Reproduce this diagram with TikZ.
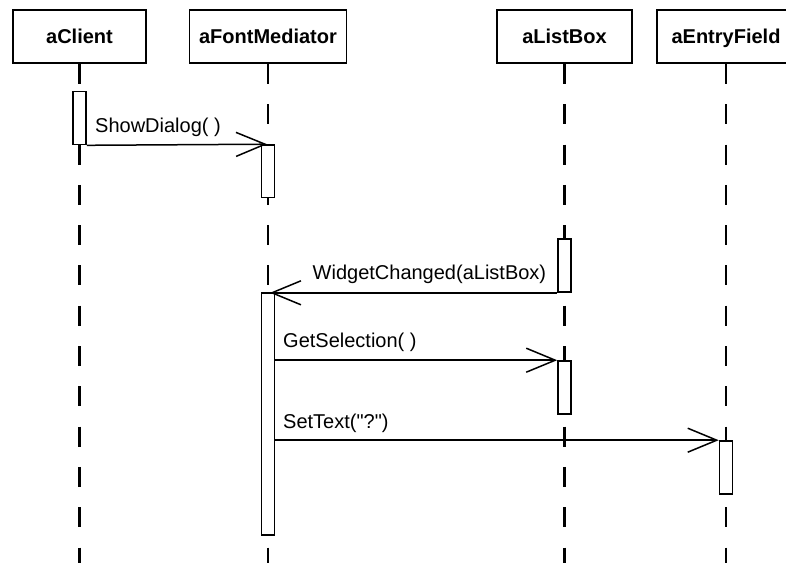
\documentclass[tikz,border=0pt]{standalone}
\usepackage{fontspec}
\setmainfont{Liberation Sans}[Ligatures=TeXOff]
\usetikzlibrary{arrows.meta}
\begin{document}
\begin{tikzpicture}[x=1pt,y=-1pt,
  objbox/.style={draw,line width=1.8pt,fill=white,minimum height=53pt,inner sep=0pt,
    text height=14.6pt,text depth=1pt,
    font=\fontsize{20}{24}\selectfont\bfseries},
  actbox/.style={draw,line width=1.6pt,fill=white,minimum width=13pt,inner sep=0pt},
  lifeline/.style={line width=2.8pt,dash pattern=on 20pt off 20.3pt},
  msg/.style={line width=1.5pt,-{Straight Barb[length=29pt,width=24pt]}},
  msglabel/.style={anchor=base west,inner sep=0pt,font=\fontsize{20}{24}\selectfont}]
\useasboundingbox (0,0) rectangle (786,562);
\clip (0,0) rectangle (786,562);
\fill[white] (0,0) rectangle (786,562);
% object boxes
\node[objbox,minimum width=133pt] (cl) at (79.5,36.5) {aClient};
\node[objbox,minimum width=157pt] (fm) at (268,36.5) {aFontMediator};
\node[objbox,minimum width=135pt] (lb) at (564.5,36.5) {aListBox};
\node[objbox,minimum width=138pt] (ef) at (726,36.5) {aEntryField};
% lifeline ends
\coordinate (clend) at (79.5,575);
\coordinate (fmend) at (268,575);
\coordinate (lbend) at (564.5,575);
\coordinate (efend) at (726,575);
\draw[lifeline] (cl.south) -- (clend);
\draw[lifeline] (fm.south) -- (fmend);
\draw[lifeline] (lb.south) -- (lbend);
\draw[lifeline] (ef.south) -- (efend);
% activations
\node[actbox,minimum height=53pt] (ca) at (79.5,118) {};
\node[actbox,minimum height=52.5pt] (fm1) at (268,171.25) {};
\node[actbox,minimum height=53pt] (lb1) at (564.5,265.5) {};
\node[actbox,minimum height=242pt] (fm2) at (268,414) {};
\node[actbox,minimum height=53pt] (lb2) at (564.5,387.5) {};
\node[actbox,minimum height=53pt] (ea) at (726,467.5) {};
% messages
\draw[msg] (ca.south east) -- ([xshift=-1pt]fm1.north);
\node[msglabel] (l1) at (95,132) {ShowDialog( )};
\draw[msg] (lb1.south west) -- ([xshift=2pt]lb1.south west -| fm2.north);
\node[msglabel] (l2) at (312.5,279.5) {WidgetChanged(aListBox)};
\draw[msg] (fm2.east |- lb2.north west) -- (lb2.north west);
\node[msglabel] (l3) at (283,347) {GetSelection( )};
\draw[msg] (fm2.east |- ea.north west) -- (ea.north west);
\node[msglabel] (l4) at (283,428) {SetText("?")};
\end{tikzpicture}
\end{document}
